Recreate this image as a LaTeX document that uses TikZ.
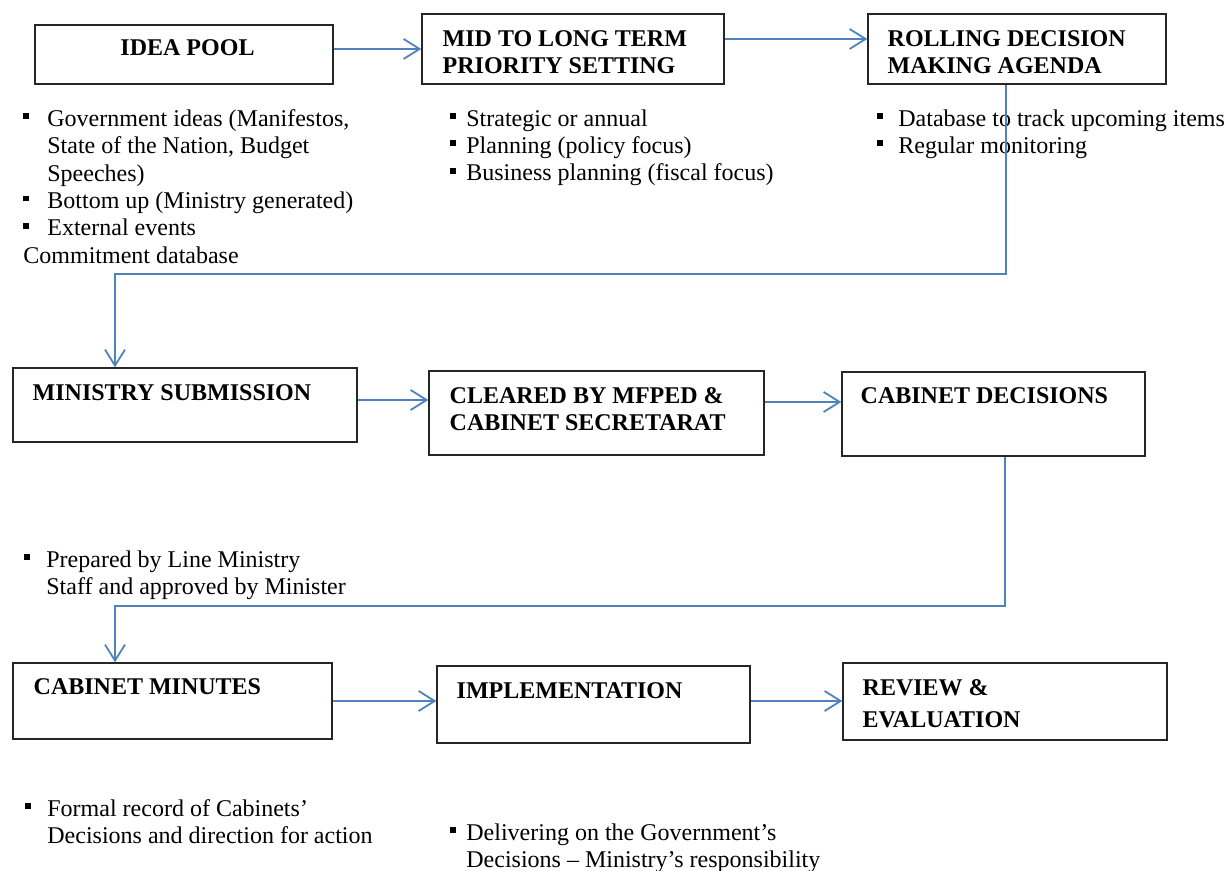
\documentclass[tikz,border=0pt]{standalone}
\usepackage{fontspec}
\setmainfont{Liberation Serif}
\usetikzlibrary{arrows.meta}

\definecolor{flowblue}{RGB}{79,129,189}
\newcommand{\sqbul}[1]{\makebox[#1][l]{\rule[0.3em]{0.24em}{0.24em}}}

\tikzset{
  stage/.style={draw=black!85,line width=0.7pt,inner sep=0pt},
  stagetext/.style={anchor=north west,inner sep=0pt,align=left,font=\fontsize{12}{13.5}\selectfont\bfseries},
  notes/.style={anchor=north west,inner sep=0pt,align=left},
  flow/.style={draw=flowblue,line width=0.9pt,-{Straight Barb[length=8pt,width=10pt]}},
}

\begin{document}
\begin{tikzpicture}[x=0.5pt,y=-0.5pt,font=\fontsize{12}{13.7}\selectfont]
      \useasboundingbox (0,0) rectangle (1227,871);

      \node[stage,minimum width=149pt,minimum height=29.5pt] (idea) at (184,54.5) {};
      \node[stage,minimum width=151pt,minimum height=35pt] (mid) at (573,49) {};
      \node[stage,minimum width=149pt,minimum height=35pt] (roll) at (1017,49) {};
      \node[stage,minimum width=172pt,minimum height=37pt] (subm) at (185,405) {};
      \node[stage,minimum width=167.5pt,minimum height=42pt] (clear) at (596.5,413) {};
      \node[stage,minimum width=151.5pt,minimum height=42pt] (decis) at (993.5,414) {};
      \node[stage,minimum width=159.5pt,minimum height=38pt] (minut) at (172.5,701) {};
      \node[stage,minimum width=156.5pt,minimum height=38.5pt] (impl) at (593.5,704.5) {};
      \node[stage,minimum width=162pt,minimum height=38.5pt] (review) at (1005,701.5) {};

      \node[stagetext,anchor=north] (ideaT) at ([shift={(3.5,15)}]idea.north) {IDEA POOL};
      \node[stagetext] (midT) at ([shift={(21,17)}]mid.north west) {MID TO LONG TERM\\PRIORITY SETTING};
      \node[stagetext] (rollT) at ([shift={(20,17)}]roll.north west) {ROLLING DECISION\\MAKING AGENDA};
      \node[stagetext] (submT) at ([shift={(20,17)}]subm.north west) {MINISTRY SUBMISSION};
      \node[stagetext] (clearT) at ([shift={(21,17)}]clear.north west) {CLEARED BY MFPED \&\\CABINET SECRETARAT};
      \node[stagetext] (decisT) at ([shift={(19,16)}]decis.north west) {CABINET DECISIONS};
      \node[stagetext] (minutT) at ([shift={(21,16)}]minut.north west) {CABINET MINUTES};
      \node[stagetext] (implT) at ([shift={(20,17)}]impl.north west) {IMPLEMENTATION};
      \node[stagetext] (reviewT) at ([shift={(20,17)}]review.north west) {REVIEW \&\\[2.5pt]EVALUATION};

      \node[notes] (ideaN) at (23,109) {\sqbul{12pt}Government ideas (Manifestos,\\\hspace*{12pt}State of the Nation, Budget\\\hspace*{12pt}Speeches)\\\sqbul{12pt}Bottom up (Ministry generated)\\\sqbul{12pt}External events\\Commitment database};
      \node[notes] (midN) at (450,109) {\sqbul{8pt}Strategic or annual\\\sqbul{8pt}Planning (policy focus)\\\sqbul{8pt}Business planning (fiscal focus)};
      \node[notes] (rollN) at (877,109) {\sqbul{10.5pt}Database to track upcoming items\\\sqbul{10.5pt}Regular monitoring};
      \node[notes] (submN) at (24,550) {\sqbul{11pt}Prepared by Line Ministry\\\hspace*{11pt}Staff and approved by Minister};
      \node[notes] (minutN) at (25,799) {\sqbul{11pt}Formal record of Cabinets’\\\hspace*{11pt}Decisions and direction for action};
      \node[notes] (implN) at (450,823) {\sqbul{8pt}Delivering on the Government’s\\\hspace*{8pt}Decisions – Ministry’s responsibility};

      \draw[flow] (idea.east |- mid.west) -- (mid.west);
      \draw[flow] ([yshift=5pt]mid.east) -- ([yshift=5pt]roll.west);
      \draw[flow] ([yshift=2.5pt]subm.east) -- ([yshift=2.5pt]subm.east -| clear.west);
      \draw[flow] ([yshift=5.5pt]clear.east) -- ([yshift=5.5pt]clear.east -| decis.west);
      \draw[flow] (minut.east) -- (minut.east -| impl.west);
      \draw[flow] ([yshift=1.75pt]impl.east) -- ([yshift=1.75pt]impl.east -| review.west);

      \coordinate (bendA) at (560,274);
      \coordinate (bendB) at (560,606);
      \draw[flow] ([xshift=-5.5pt]roll.south) |- (bendA) -| ([xshift=-35pt]subm.north);
      \draw[flow] ([xshift=5.75pt]decis.south) |- (bendB) -| ([xshift=-28.75pt]minut.north);
\end{tikzpicture}
\end{document}
